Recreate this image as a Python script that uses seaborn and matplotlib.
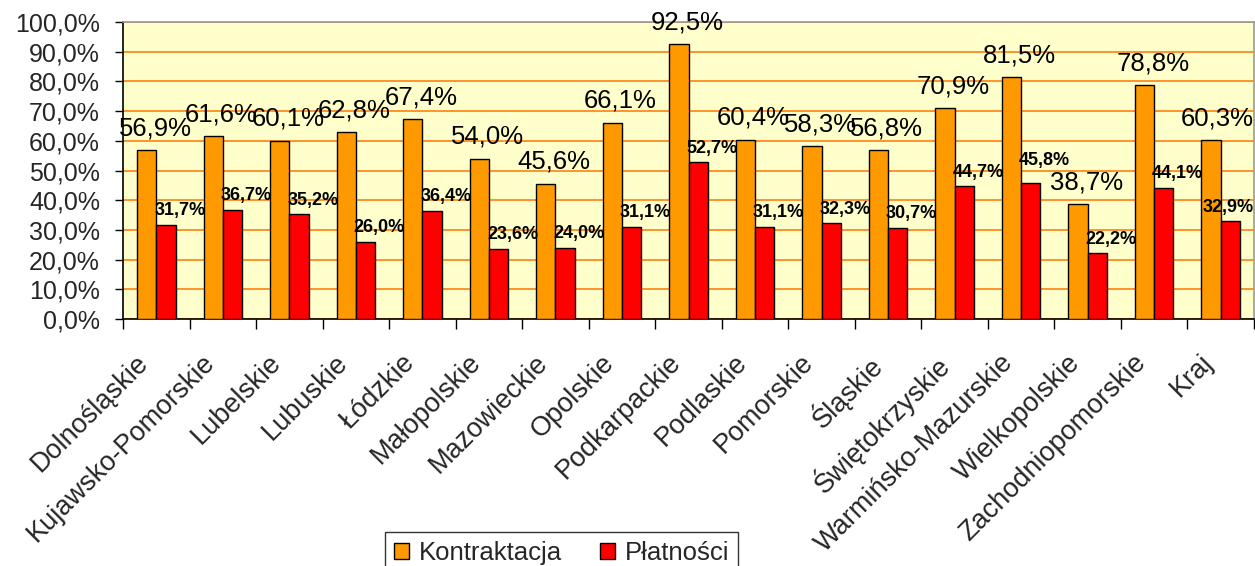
import numpy as np
import pandas as pd
import matplotlib
matplotlib.use("Agg")
import matplotlib.pyplot as plt
import matplotlib.transforms as mtrans
import seaborn as sns

regions = ["Dolnośląskie", "Kujawsko-Pomorskie", "Lubelskie", "Lubuskie", "Łódzkie",
           "Małopolskie", "Mazowieckie", "Opolskie", "Podkarpackie", "Podlaskie",
           "Pomorskie", "Śląskie", "Świętokrzyskie", "Warmińsko-Mazurskie",
           "Wielkopolskie", "Zachodniopomorskie", "Kraj"]
kontraktacja = [56.9, 61.6, 60.1, 62.8, 67.4, 54.0, 45.6, 66.1, 92.5, 60.4,
                58.3, 56.8, 70.9, 81.5, 38.7, 78.8, 60.3]
platnosci = [31.7, 36.7, 35.2, 26.0, 36.4, 23.6, 24.0, 31.1, 52.7, 31.1,
             32.3, 30.7, 44.7, 45.8, 22.2, 44.1, 32.9]
series = ["Kontraktacja", "Płatności"]
yticks = np.arange(0, 101, 10)

df = pd.DataFrame({
    "region": regions * 2,
    "seria": [series[0]] * len(regions) + [series[1]] * len(regions),
    "wartosc": kontraktacja + platnosci,
})

sns.set_theme(style="white")
plt.rcParams["font.family"] = ["Liberation Sans", "DejaVu Sans"]

fig = plt.figure(figsize=(12.55, 5.66), dpi=100)
ax = fig.add_axes([123 / 1255, 1 - 319 / 566, 1131 / 1255, 297 / 566])
ax.set_facecolor("#FFFFCC")

sns.barplot(data=df, x="region", y="wartosc", hue="seria", order=regions,
            hue_order=series, palette=["#FF9900", "#FF0000"], width=0.58,
            gap=0, edgecolor="black", linewidth=1, saturation=1, ax=ax, zorder=3)

ax.set_ylim(0, 100)
ax.set_xlim(-0.5, len(regions) - 0.5)
ax.set_yticks(yticks)
ax.set_yticklabels([f"{v:.1f}%".replace(".", ",") for v in yticks], fontsize=18)
ax.yaxis.grid(True, color="#FF8A1E", linewidth=1.3, zorder=0)
ax.set_axisbelow(True)
ax.set_xlabel("")
ax.set_ylabel("")

# ticks between groups, labels at group centres
ax.set_xticks(np.arange(-0.5, len(regions), 1), minor=True)
ax.tick_params(axis="x", which="minor", length=7, width=1, direction="out", color="black", bottom=True)
ax.tick_params(axis="x", which="major", length=0, pad=22, labelsize=19.5)
ax.tick_params(axis="y", length=6, width=1, direction="out", color="black", left=True, pad=10.5)
offset = mtrans.ScaledTranslation(-21 / 100, 0, fig.dpi_scale_trans)
for lab in ax.get_xticklabels():
    lab.set_rotation(45)
    lab.set_ha("right")
    lab.set_va("top")
    lab.set_rotation_mode("anchor")
    lab.set_transform(lab.get_transform() + offset)

for side in ["left", "bottom"]:
    ax.spines[side].set_color("black")
    ax.spines[side].set_linewidth(1.2)
for side in ["top", "right"]:
    ax.spines[side].set_color("#999999")
    ax.spines[side].set_linewidth(1.2)

# data labels
big_labels, small_labels = [], []
for cont, size, weight, dx, dy, store in [(ax.containers[0], 18.5, "normal", 6, 7, big_labels),
                                          (ax.containers[1], 13, "bold", 10, 4, small_labels)]:
    for p in cont.patches:
        v = p.get_height()
        t = ax.annotate(f"{v:.1f}%".replace(".", ","), (p.get_x() + p.get_width() / 2, v),
                        xytext=(dx, dy), textcoords="offset points", ha="center",
                        va="bottom", fontsize=size, fontweight=weight, color="black",
                        zorder=5, annotation_clip=False)
        store.append(t)

# keep labels inside the figure and lift small labels that collide with big ones
fig.canvas.draw()
renderer = fig.canvas.get_renderer()
for t in big_labels + small_labels:
    bb = t.get_window_extent(renderer)
    over = bb.x1 - (fig.bbox.width - 1)
    if over > 0:
        x, y = t.xyann
        t.xyann = (x - over * 72 / fig.dpi, y)
for t in small_labels:
    bb = t.get_window_extent(renderer)
    for b in big_labels:
        bb2 = b.get_window_extent(renderer)
        if bb.overlaps(bb2) and bb.y0 < bb2.y1:
            x, y = t.xyann
            t.xyann = (x, y + (bb2.y1 - bb.y0 + 1) * 72 / fig.dpi)

ax.get_legend().remove()
handles = [plt.Rectangle((0, 0), 1, 1, facecolor=c, edgecolor="black", linewidth=1)
           for c in ["#FF9900", "#FF0000"]]
leg = fig.legend(handles, series, loc="upper left", bbox_to_anchor=(385 / 1255, 1 - 532 / 566),
                 ncol=2, fontsize=18.5, frameon=True, fancybox=False, borderaxespad=0,
                 handlelength=0.6, handleheight=0.6, handletextpad=0.35,
                 columnspacing=1.5, borderpad=0.35)
leg.get_frame().set_edgecolor("black")
leg.get_frame().set_linewidth(1)

fig.savefig("out.png", dpi=100)
